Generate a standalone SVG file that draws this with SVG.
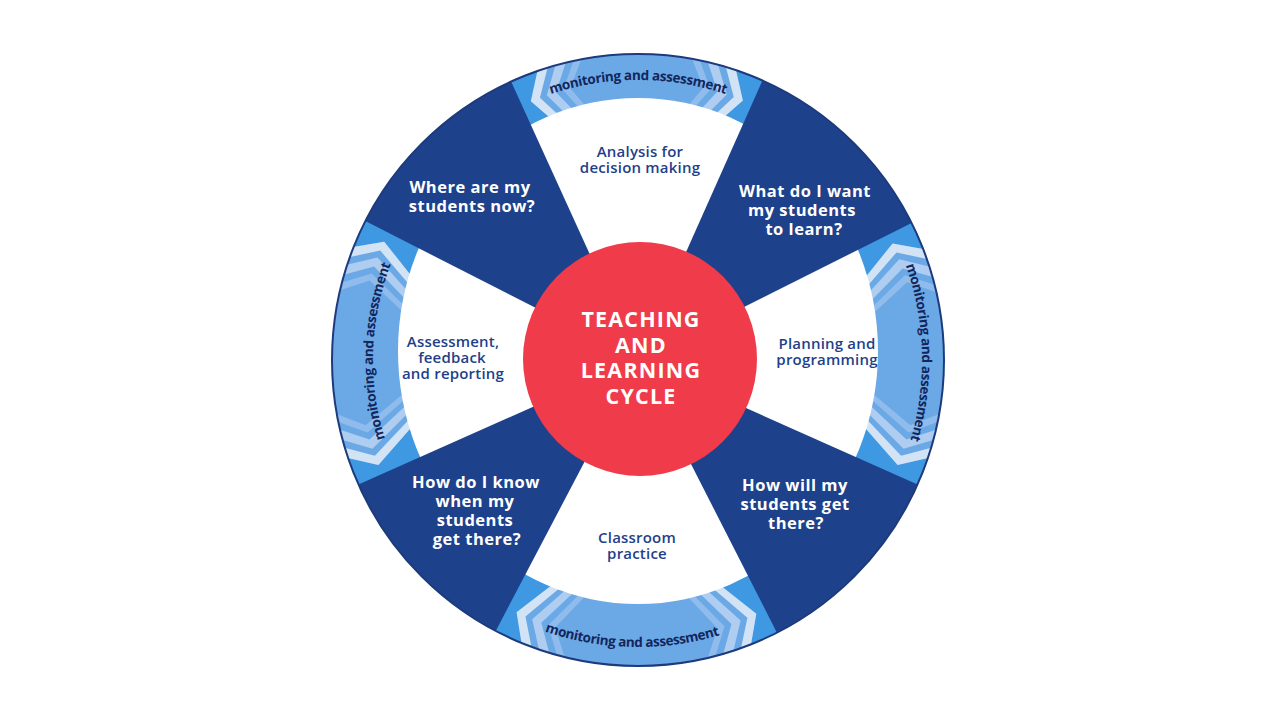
<svg xmlns="http://www.w3.org/2000/svg" xmlns:xlink="http://www.w3.org/1999/xlink" width="1280" height="720" viewBox="0 0 1280 720">
<style>
.dark{fill:#1e418b}
.qtxt{font-family:"Open Sans","Liberation Sans",sans-serif;font-weight:700;font-size:16.5px;fill:#ffffff;text-anchor:middle;letter-spacing:0.5px}
.wtxt{font-family:"Open Sans","Liberation Sans",sans-serif;font-weight:600;font-size:15px;fill:#1f3f8a;text-anchor:middle;letter-spacing:0.2px}
.ctxt{font-family:"Open Sans","Liberation Sans",sans-serif;font-weight:700;font-size:21.5px;fill:#ffffff;text-anchor:middle;letter-spacing:1.2px}
.btxt{font-family:"Open Sans","Liberation Sans",sans-serif;font-weight:700;font-size:13.5px;fill:#13265c;letter-spacing:-0.4px}
</style>
<defs>
<clipPath id="disc" clipPathUnits="userSpaceOnUse"><circle cx="638" cy="360" r="306"/></clipPath>
<g id="chev">
<polygon fill="#3f98e2" points="308.96,-43.42 310.29,32.61 279.83,9.77 233.98,30.81 233.70,-32.84"/>
<polygon fill="#d2e3f6" points="310.29,32.61 279.83,9.77 233.98,30.81 232.76,38.95 279.32,19.53 308.96,43.42"/>
<polygon fill="#aecdf0" points="307.72,51.50 278.71,26.84 231.66,45.03 229.95,53.09 277.60,36.55 305.74,62.20"/>
<polygon fill="#8fbcec" points="304.00,70.18 276.55,43.80 228.48,59.09 226.86,65.05 275.31,51.03 302.06,78.12"/>
</g>
<path id="arcTop" d="M423.51,180.02 A280,280 0 0 1 852.49,180.02" fill="none"/>
<path id="arcRight" d="M814.41,137.43 A284,284 0 0 1 826.56,572.38" fill="none"/>
<path id="arcBottom" d="M414.28,539.78 A287,287 0 0 0 853.89,549.11" fill="none"/>
<path id="arcLeft" d="M461.03,557.24 A265,265 0 0 1 474.48,151.46" fill="none"/>
</defs>
<rect width="1280" height="720" fill="#ffffff"/>

<g id="bands">
<circle cx="638" cy="360" r="306" fill="#6ba9e6"/>
<g clip-path="url(#disc)">
<use xlink:href="#chev" transform="translate(638,360) rotate(245.5)"/>
<use xlink:href="#chev" transform="translate(638,360) rotate(294) scale(1,-1)"/>
<use xlink:href="#chev" transform="translate(638,360) rotate(333.4)"/>
<use xlink:href="#chev" transform="translate(638,360) rotate(24) scale(1,-1)"/>
<use xlink:href="#chev" transform="translate(638,360) rotate(63)"/>
<use xlink:href="#chev" transform="translate(638,360) rotate(117.7) scale(1,-1)"/>
<use xlink:href="#chev" transform="translate(638,360) rotate(156)"/>
<use xlink:href="#chev" transform="translate(638,360) rotate(207) scale(1,-1)"/>
</g>
<ellipse cx="638" cy="351" rx="240" ry="253" fill="#ffffff"/>
</g>

<g id="connectors"></g>

<g id="q-where">
<path class="dark" d="M638,360 L365.35,221.08 A306,306 0 0 1 511.10,81.55 Z"/>
<text class="qtxt"><tspan x="470" y="193">Where are my</tspan><tspan x="472" y="212">students now?</tspan></text>
</g>
<g id="q-what">
<path class="dark" d="M638,360 L762.46,80.45 A306,306 0 0 1 911.61,222.99 Z"/>
<text class="qtxt"><tspan x="805" y="197">What do I want</tspan><tspan x="802" y="216">my students</tspan><tspan x="804" y="235">to learn?</tspan></text>
</g>
<g id="q-how-will">
<path class="dark" d="M638,360 L917.55,484.46 A306,306 0 0 1 776.92,632.65 Z"/>
<text class="qtxt"><tspan x="795" y="491">How will my</tspan><tspan x="795" y="510">students get</tspan><tspan x="796" y="529">there?</tspan></text>
</g>
<g id="q-how-know">
<path class="dark" d="M638,360 L495.76,630.93 A306,306 0 0 1 358.45,484.46 Z"/>
<text class="qtxt"><tspan x="476" y="488">How do I know</tspan><tspan x="475" y="507">when my</tspan><tspan x="475" y="526">students</tspan><tspan x="477" y="545">get there?</tspan></text>
</g>

<g id="center">
<circle cx="640" cy="359" r="117" fill="#ef3b4a"/>
<text class="ctxt"><tspan x="641" y="327">TEACHING</tspan><tspan x="641" y="353">AND</tspan><tspan x="641" y="378">LEARNING</tspan><tspan x="641" y="404">CYCLE</tspan></text>
</g>

<g id="s-analysis">
<text class="wtxt"><tspan x="640" y="157">Analysis for</tspan><tspan x="640" y="173">decision making</tspan></text>
</g>
<g id="s-planning">
<text class="wtxt"><tspan x="827" y="349">Planning and</tspan><tspan x="827" y="365">programming</tspan></text>
</g>
<g id="s-classroom">
<text class="wtxt"><tspan x="637" y="543">Classroom</tspan><tspan x="637" y="559">practice</tspan></text>
</g>
<g id="s-assessment">
<text class="wtxt"><tspan x="453" y="347">Assessment,</tspan><tspan x="452" y="363">feedback</tspan><tspan x="453" y="379">and reporting</tspan></text>
</g>

<g id="band-labels">
<text class="btxt"><textPath xlink:href="#arcTop" startOffset="50%" text-anchor="middle">monitoring and assessment</textPath></text>
<text class="btxt"><textPath xlink:href="#arcRight" startOffset="50%" text-anchor="middle">monitoring and assessment</textPath></text>
<text class="btxt"><textPath xlink:href="#arcBottom" startOffset="50%" text-anchor="middle">monitoring and assessment</textPath></text>
<text class="btxt"><textPath xlink:href="#arcLeft" startOffset="50%" text-anchor="middle">monitoring and assessment</textPath></text>
</g>

<g id="border">
<circle cx="638" cy="360" r="306" fill="none" stroke="#1d3a7c" stroke-width="2"/>
</g>
</svg>
